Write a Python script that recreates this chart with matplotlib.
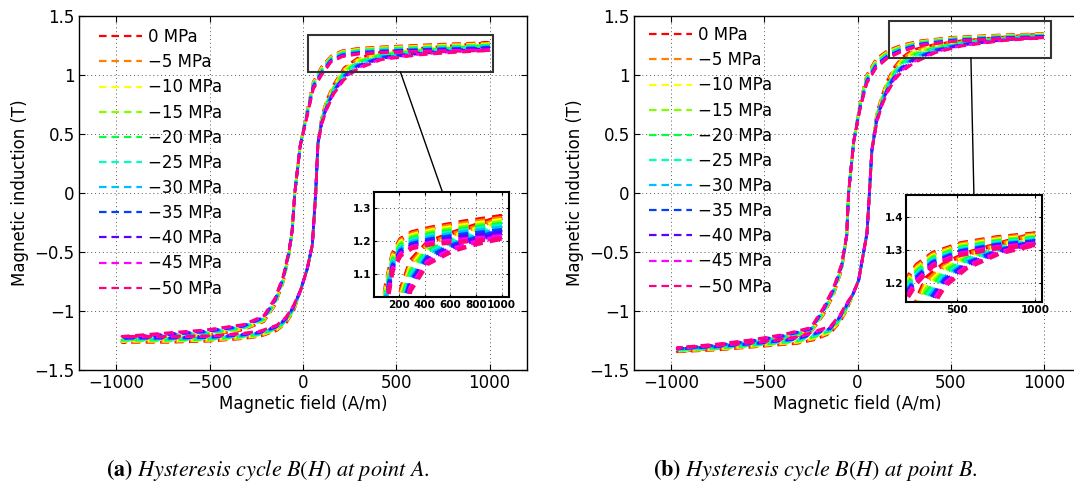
import numpy as np
import matplotlib
matplotlib.use("Agg")
import matplotlib.pyplot as plt
from matplotlib.colors import hsv_to_rgb
from matplotlib.ticker import FuncFormatter

# ---------------- data ----------------
stress_labels = ["0 MPa", "\u22125 MPa", "\u221210 MPa", "\u221215 MPa", "\u221220 MPa", "\u221225 MPa",
                 "\u221230 MPa", "\u221235 MPa", "\u221240 MPa", "\u221245 MPa", "\u221250 MPa"]

# ---- point A ----
HA_dn_sat = [1000, 700, 450, 300, 210, 150, 100, 55, 15]
BA_dn_sat = [
    [1.275, 1.258, 1.240, 1.226, 1.205, 1.160, 1.070, 0.940, 0.640],
    [1.269, 1.253, 1.236, 1.222, 1.201, 1.156, 1.064, 0.935, 0.637],
    [1.263, 1.247, 1.231, 1.217, 1.196, 1.151, 1.057, 0.930, 0.633],
    [1.257, 1.241, 1.226, 1.212, 1.191, 1.146, 1.050, 0.925, 0.630],
    [1.251, 1.236, 1.221, 1.207, 1.186, 1.141, 1.043, 0.920, 0.627],
    [1.246, 1.231, 1.216, 1.202, 1.181, 1.136, 1.036, 0.915, 0.623],
    [1.240, 1.226, 1.211, 1.197, 1.176, 1.131, 1.030, 0.910, 0.620],
    [1.232, 1.219, 1.205, 1.191, 1.170, 1.125, 1.022, 0.903, 0.615],
    [1.224, 1.212, 1.200, 1.186, 1.165, 1.120, 1.015, 0.896, 0.610],
    [1.214, 1.204, 1.194, 1.181, 1.160, 1.115, 1.007, 0.889, 0.605],
    [1.207, 1.198, 1.190, 1.178, 1.155, 1.110, 1.000, 0.880, 0.600],
]
HA_dn_core = [-15, -44, -58]
BA_dn_core = [0.40, 0.00, -0.32]
HA_dn_tail = [-75, -105, -150, -210, -320, -520, -970]
BA_dn_tail = [
    [-0.520, -0.750, -0.950, -1.090, -1.160, -1.210, -1.265],
    [-0.520, -0.745, -0.945, -1.085, -1.156, -1.205, -1.260],
    [-0.515, -0.740, -0.940, -1.080, -1.151, -1.200, -1.255],
    [-0.510, -0.735, -0.935, -1.075, -1.147, -1.195, -1.250],
    [-0.510, -0.730, -0.930, -1.070, -1.142, -1.190, -1.245],
    [-0.505, -0.725, -0.920, -1.065, -1.138, -1.185, -1.240],
    [-0.500, -0.720, -0.915, -1.060, -1.133, -1.180, -1.235],
    [-0.500, -0.715, -0.910, -1.055, -1.129, -1.175, -1.230],
    [-0.495, -0.710, -0.905, -1.050, -1.124, -1.170, -1.225],
    [-0.490, -0.705, -0.900, -1.045, -1.120, -1.165, -1.220],
    [-0.490, -0.700, -0.890, -1.040, -1.115, -1.160, -1.215],
]
HA_up_tail = [-970, -720, -500, -330, -230, -140, -90, -50]
BA_up_tail = [
    [-1.265, -1.265, -1.255, -1.235, -1.215, -1.165, -1.100, -1.000],
    [-1.260, -1.260, -1.251, -1.231, -1.211, -1.161, -1.095, -0.995],
    [-1.255, -1.255, -1.246, -1.226, -1.206, -1.156, -1.090, -0.990],
    [-1.250, -1.250, -1.242, -1.222, -1.202, -1.152, -1.085, -0.985],
    [-1.245, -1.245, -1.237, -1.217, -1.197, -1.147, -1.080, -0.980],
    [-1.240, -1.240, -1.233, -1.213, -1.193, -1.143, -1.075, -0.975],
    [-1.235, -1.235, -1.228, -1.208, -1.188, -1.138, -1.070, -0.970],
    [-1.230, -1.230, -1.224, -1.204, -1.184, -1.134, -1.065, -0.965],
    [-1.225, -1.225, -1.219, -1.199, -1.179, -1.129, -1.060, -0.960],
    [-1.220, -1.220, -1.215, -1.195, -1.175, -1.125, -1.055, -0.955],
    [-1.215, -1.215, -1.210, -1.190, -1.170, -1.120, -1.050, -0.950],
]
HA_up_core = [-12, 23, 50, 68, 80]
BA_up_core = [-0.82, -0.64, -0.44, 0.00, 0.42]
HA_up_sat = [100, 125, 165, 220, 290, 420, 620, 800, 1000]
BA_up_sat = [
    [0.640, 0.780, 0.920, 1.060, 1.140, 1.195, 1.225, 1.248, 1.275],
    [0.634, 0.772, 0.912, 1.050, 1.131, 1.189, 1.220, 1.242, 1.269],
    [0.628, 0.764, 0.904, 1.040, 1.122, 1.182, 1.214, 1.236, 1.263],
    [0.622, 0.756, 0.896, 1.030, 1.113, 1.176, 1.209, 1.230, 1.257],
    [0.616, 0.748, 0.888, 1.020, 1.104, 1.169, 1.203, 1.225, 1.251],
    [0.610, 0.740, 0.880, 1.010, 1.095, 1.163, 1.198, 1.220, 1.246],
    [0.604, 0.732, 0.872, 1.000, 1.086, 1.156, 1.192, 1.215, 1.240],
    [0.598, 0.724, 0.864, 0.990, 1.077, 1.150, 1.187, 1.209, 1.232],
    [0.592, 0.716, 0.856, 0.980, 1.068, 1.143, 1.181, 1.203, 1.224],
    [0.586, 0.708, 0.848, 0.970, 1.059, 1.137, 1.176, 1.197, 1.214],
    [0.580, 0.700, 0.840, 0.960, 1.050, 1.130, 1.170, 1.190, 1.207],
]

# ---- point B ----
HB_dn_sat = [1000, 750, 520, 340, 240, 160, 100, 50, 15]
BB_dn_sat = [
    [1.350, 1.338, 1.320, 1.290, 1.255, 1.205, 1.135, 1.000, 0.770],
    [1.347, 1.335, 1.317, 1.286, 1.250, 1.199, 1.128, 0.993, 0.765],
    [1.343, 1.331, 1.313, 1.282, 1.244, 1.192, 1.120, 0.986, 0.760],
    [1.340, 1.328, 1.310, 1.278, 1.239, 1.186, 1.113, 0.979, 0.755],
    [1.336, 1.325, 1.306, 1.274, 1.233, 1.179, 1.105, 0.972, 0.750],
    [1.333, 1.322, 1.303, 1.270, 1.228, 1.173, 1.098, 0.965, 0.745],
    [1.329, 1.318, 1.299, 1.266, 1.222, 1.166, 1.090, 0.958, 0.740],
    [1.326, 1.315, 1.296, 1.262, 1.217, 1.160, 1.083, 0.951, 0.735],
    [1.322, 1.312, 1.292, 1.258, 1.211, 1.153, 1.075, 0.944, 0.730],
    [1.319, 1.308, 1.289, 1.254, 1.206, 1.147, 1.068, 0.937, 0.725],
    [1.315, 1.305, 1.285, 1.250, 1.200, 1.140, 1.060, 0.930, 0.720],
]
HB_dn_core = [-20, -48, -58]
BB_dn_core = [0.44, 0.00, -0.36]
HB_dn_tail = [-85, -128, -182, -250, -400, -575, -754, -968]
BB_dn_tail = [
    [-0.650, -0.860, -1.030, -1.180, -1.240, -1.285, -1.315, -1.345],
    [-0.645, -0.854, -1.024, -1.176, -1.236, -1.281, -1.312, -1.342],
    [-0.640, -0.848, -1.018, -1.172, -1.232, -1.277, -1.308, -1.338],
    [-0.635, -0.842, -1.012, -1.168, -1.228, -1.273, -1.305, -1.335],
    [-0.630, -0.836, -1.006, -1.164, -1.224, -1.269, -1.301, -1.331],
    [-0.625, -0.830, -1.000, -1.160, -1.220, -1.265, -1.298, -1.328],
    [-0.620, -0.824, -0.994, -1.156, -1.216, -1.261, -1.294, -1.324],
    [-0.615, -0.818, -0.988, -1.152, -1.212, -1.257, -1.291, -1.321],
    [-0.610, -0.812, -0.982, -1.148, -1.208, -1.253, -1.287, -1.317],
    [-0.605, -0.806, -0.976, -1.144, -1.204, -1.249, -1.284, -1.314],
    [-0.600, -0.800, -0.970, -1.140, -1.200, -1.245, -1.280, -1.310],
]
HB_up_tail = [-968, -754, -522, -325, -236, -146, -93, -57]
BB_up_tail = [
    [-1.345, -1.330, -1.300, -1.275, -1.245, -1.190, -1.090, -0.990],
    [-1.342, -1.326, -1.296, -1.270, -1.238, -1.184, -1.084, -0.984],
    [-1.338, -1.322, -1.292, -1.264, -1.231, -1.178, -1.078, -0.978],
    [-1.335, -1.318, -1.288, -1.259, -1.224, -1.172, -1.072, -0.972],
    [-1.331, -1.314, -1.284, -1.253, -1.217, -1.166, -1.066, -0.966],
    [-1.328, -1.310, -1.280, -1.248, -1.210, -1.160, -1.060, -0.960],
    [-1.324, -1.306, -1.276, -1.242, -1.203, -1.154, -1.054, -0.954],
    [-1.321, -1.302, -1.272, -1.237, -1.196, -1.148, -1.048, -0.948],
    [-1.317, -1.298, -1.268, -1.231, -1.189, -1.142, -1.042, -0.942],
    [-1.314, -1.294, -1.264, -1.226, -1.182, -1.136, -1.036, -0.936],
    [-1.310, -1.290, -1.260, -1.220, -1.175, -1.130, -1.030, -0.930],
]
HB_up_core = [-25, 6, 51, 64, 77]
BB_up_core = [-0.86, -0.74, -0.34, 0.00, 0.36]
HB_up_sat = [104, 131, 160, 200, 240, 300, 420, 560, 774, 1000]
BB_up_sat = [
    [0.680, 0.820, 0.950, 1.070, 1.150, 1.215, 1.260, 1.290, 1.320, 1.350],
    [0.672, 0.812, 0.940, 1.059, 1.138, 1.204, 1.253, 1.286, 1.317, 1.347],
    [0.664, 0.804, 0.930, 1.048, 1.126, 1.192, 1.246, 1.281, 1.314, 1.343],
    [0.656, 0.796, 0.920, 1.037, 1.114, 1.181, 1.239, 1.277, 1.311, 1.340],
    [0.648, 0.788, 0.910, 1.026, 1.102, 1.169, 1.232, 1.272, 1.308, 1.336],
    [0.640, 0.780, 0.900, 1.015, 1.090, 1.158, 1.225, 1.268, 1.305, 1.333],
    [0.632, 0.772, 0.890, 1.004, 1.078, 1.146, 1.218, 1.263, 1.302, 1.329],
    [0.624, 0.764, 0.880, 0.993, 1.066, 1.135, 1.211, 1.259, 1.299, 1.326],
    [0.616, 0.756, 0.870, 0.982, 1.054, 1.123, 1.204, 1.254, 1.296, 1.322],
    [0.608, 0.748, 0.860, 0.971, 1.042, 1.112, 1.197, 1.250, 1.293, 1.319],
    [0.600, 0.740, 0.850, 0.960, 1.030, 1.100, 1.190, 1.245, 1.290, 1.315],
]

main_xticks = [-1000, -500, 0, 500, 1000]
main_yticks = [-1.5, -1, -0.5, 0, 0.5, 1, 1.5]
insetA_xticks = [200, 400, 600, 800, 1000]
insetA_yticks = [1.1, 1.2, 1.3]
insetB_xticks = [500, 1000]
insetB_yticks = [1.2, 1.3, 1.4]

# ---------------- style ----------------
hues = [0, 30, 60, 90, 135, 165, 195, 225, 262, 300, 330]
colors = [hsv_to_rgb((h / 360.0, 1.0, 1.0)) for h in hues]
plt.rcParams['font.family'] = ['DejaVu Sans']
plt.rcParams['mathtext.fontset'] = 'stix'

W, Hh = 1074, 493
fig = plt.figure(figsize=(W / 100, Hh / 100), dpi=100)

fmt = FuncFormatter(lambda v, pos: ("%g" % v).replace("-", "\u2212"))


def px_axes(x0, y0, x1, y1):
    return fig.add_axes([x0 / W, 1 - y1 / Hh, (x1 - x0) / W, (y1 - y0) / Hh])


def loop(i, Hdn_sat, Bdn_sat, Hdn_core, Bdn_core, Hdn_tail, Bdn_tail,
         Hup_tail, Bup_tail, Hup_core, Bup_core, Hup_sat, Bup_sat):
    H = list(Hdn_sat) + list(Hdn_core) + list(Hdn_tail) + list(Hup_tail) + list(Hup_core) + list(Hup_sat)
    B = list(Bdn_sat[i]) + list(Bdn_core) + list(Bdn_tail[i]) + list(Bup_tail[i]) + list(Bup_core) + list(Bup_sat[i])
    return H, B


def style_axes(ax, xticks, yticks, fs, bold=False):
    ax.set_xticks(xticks)
    ax.set_yticks(yticks)
    ax.xaxis.set_major_formatter(fmt)
    ax.yaxis.set_major_formatter(fmt)
    ax.tick_params(direction='in', top=True, right=True, length=4, width=0.8,
                   labelsize=fs, pad=3)
    if bold:
        for t in ax.get_xticklabels() + ax.get_yticklabels():
            t.set_fontweight('bold')
    ax.grid(True, color='0.35', linestyle=(0, (1, 3)), linewidth=0.7)
    for s in ax.spines.values():
        s.set_linewidth(1.0)


panels = [
    dict(data=(HA_dn_sat, BA_dn_sat, HA_dn_core, BA_dn_core, HA_dn_tail, BA_dn_tail,
               HA_up_tail, BA_up_tail, HA_up_core, BA_up_core, HA_up_sat, BA_up_sat),
         ax=(79, 16, 527, 370), inset=(374, 192, 509, 297),
         ixlim=(5, 1056), iylim=(1.03, 1.348), ixt=insetA_xticks, iyt=insetA_yticks,
         rect=(25, 1.025, 1016, 1.34), conn=((522, 1.025), (747, 0.008)),
         leg=(99, 28), cap=(268, "a", "A")),
    dict(data=(HB_dn_sat, BB_dn_sat, HB_dn_core, BB_dn_core, HB_dn_tail, BB_dn_tail,
               HB_up_tail, BB_up_tail, HB_up_core, BB_up_core, HB_up_sat, BB_up_sat),
         ax=(634, 16, 1081, 370), inset=(906, 195, 1042, 302),
         ixlim=(170, 1045), iylim=(1.142, 1.467), ixt=insetB_xticks, iyt=insetB_yticks,
         rect=(171, 1.144, 1040, 1.458), conn=((609, 1.144), (625, -0.017)),
         leg=(649, 26), cap=(815, "b", "B")),
]

for p in panels:
    ax = px_axes(*p['ax'])
    ins = px_axes(*p['inset'])
    handles = []
    for i in range(len(stress_labels)):
        H, B = loop(i, *p['data'])
        ln, = ax.plot(H, B, color=colors[i], lw=2.0, ls='--', dashes=(3.2, 2.0),
                      label=stress_labels[i])
        handles.append(ln)
        ins.plot(H, B, color=colors[i], lw=3.2, ls='--', dashes=(2.2, 1.6))
    ax.set_xlim(-1200, 1200)
    ax.set_ylim(-1.5, 1.5)
    style_axes(ax, main_xticks, main_yticks, 12)
    ax.set_xlabel("Magnetic field (A/m)", fontsize=12, labelpad=2)
    ax.set_ylabel("Magnetic induction (T)", fontsize=12, labelpad=4)

    ins.set_xlim(*p['ixlim'])
    ins.set_ylim(*p['iylim'])
    style_axes(ins, p['ixt'], p['iyt'], 7.5, bold=True)
    ins.tick_params(length=2.5, pad=2)
    for s in ins.spines.values():
        s.set_linewidth(1.5)

    x0, y0, x1, y1 = p['rect']
    ax.add_patch(plt.Rectangle((x0, y0), x1 - x0, y1 - y0, fill=False,
                               ec='0.2', lw=1.5, zorder=5))
    (cx0, cy0), (cx1, cy1) = p['conn']
    ax.plot([cx0, cx1], [cy0, cy1], color='k', lw=1.0, zorder=5)

    lx, ly = p['leg']
    leg = ax.legend(handles=handles, loc='upper left', frameon=False, fontsize=12,
                    bbox_to_anchor=(lx / W, 1 - ly / Hh), bbox_transform=fig.transFigure,
                    borderpad=0, borderaxespad=0, handlelength=2.6, handletextpad=0.35,
                    labelspacing=0.43)
    for l in leg.get_lines():
        l.set_linewidth(1.6)
        l.set_dashes((3.4, 2.2))

    cx, lab, pt = p['cap']
    fig.text(cx / W, 1 - 470 / Hh,
             r"$\mathbf{(%s)}\ \mathit{Hysteresis\ cycle}\ B(H)\ \mathit{at\ point\ %s.}$" % (lab, pt),
             ha='center', va='center', fontsize=16)

fig.savefig("out.png", dpi=100)
